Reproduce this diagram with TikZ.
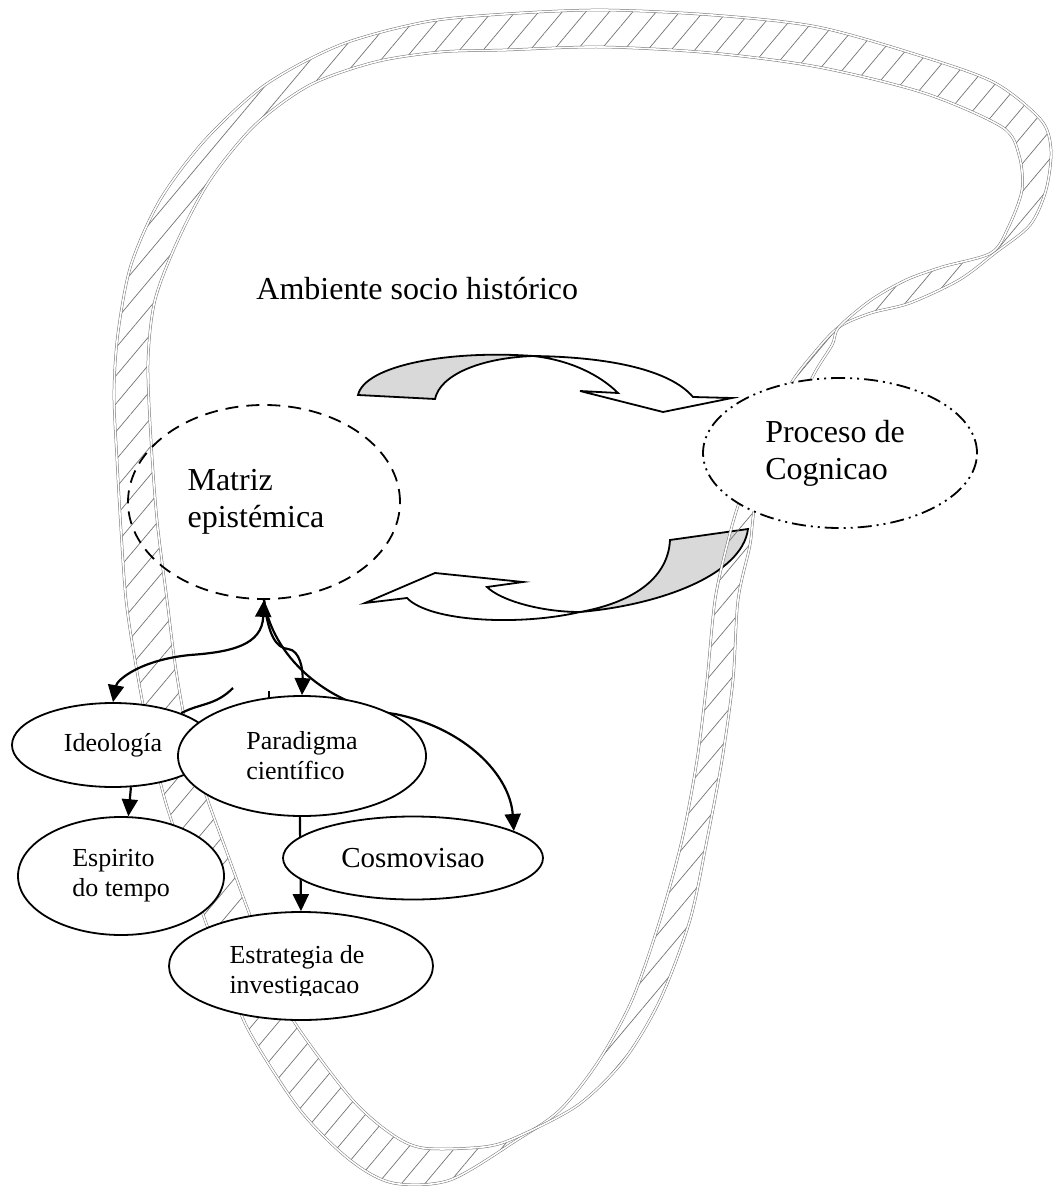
\documentclass[tikz,border=0pt]{standalone}
\usepackage{fontspec}
\setmainfont{Liberation Serif}
\usetikzlibrary{shapes.geometric,arrows.meta,patterns.meta}

\pgfdeclarelayer{back}
\pgfdeclarelayer{links}
\pgfsetlayers{back,links,main}

\newcommand\outerrim{(250,1033) (228,980) (205,920) (185,860) (165,800) (148,730) (135,660) (126,600) (121,530) (117,460) (114,393) (118,333) (131,265) (160,200) (205,140) (265,85) (340,45) (425,22) (505,14) (602,10) (712,15) (818,27) (924,57) (995,83) (1041,120) (1051,150) (1046,190) (1030,225) (995,253) (959,280) (910,303) (871,313) (839,327) (815,352) (790,385) (765,440) (740,500) (727,545) (715,600) (707,680) (697,760) (682,840) (660,920) (632,1000) (598,1062) (560,1110) (517,1140) (450,1180) (393,1183) (350,1160) (300,1110)}
\newcommand\innerrim{(293,1020) (270,968) (248,910) (226,850) (206,795) (188,735) (176,670) (167,600) (157,520) (151,440) (148,362) (155,300) (178,240) (210,180) (255,125) (310,85) (375,62) (440,52) (505,50) (602,47) (712,53) (818,67) (924,93) (1002,127) (1019,155) (1022,190) (1008,228) (991,253) (942,267) (906,280) (871,300) (839,327) (832,345) (812,378) (790,435) (757,500) (750,545) (738,600) (733,680) (722,760) (707,840) (690,920) (660,1000) (624,1060) (578,1105) (517,1137) (483,1147) (423,1148) (390,1133) (350,1097)}

\tikzset{
  bubble/.style={ellipse,draw,fill=white,line width=0.9pt,inner sep=0pt,align=left,
    font=\fontsize{13}{15}\selectfont},
  bigtext/.style={font=\fontsize{16}{18.5}\selectfont},
  conn/.style={line width=1.1pt,-{Triangle[length=8.5pt,width=8pt]}},
  rim/.style={draw=black!55,line width=0.25pt,double=white,double distance=0.8pt},
  turn/.style={draw,line width=0.9pt,line join=miter}
}

\begin{document}
\begin{tikzpicture}[x=0.5pt,y=-0.5pt]
\useasboundingbox (0,0) rectangle (1055,1186);

% nodes
\node[bubble,minimum width=101pt,minimum height=42pt] (ideo) at (113,745) {Ideología};
\node[bubble,minimum width=103pt,minimum height=59pt] (espir) at (121,876) {Espirito\\do tempo};
\node[bubble,minimum width=124pt,minimum height=60pt] (parad) at (302,756) {Paradigma\\científico};
\node[bubble,minimum width=130pt,minimum height=41.5pt,font=\fontsize{14.5}{17}\selectfont] (cosmo) at (413,858) {Cosmovisao};
\node[bubble,minimum width=132pt,minimum height=54pt] (estrat) at (301,966) {};
\begin{scope}
  \clip (160,930) rectangle (440,995);
  \node[align=left,inner sep=0pt,font=\fontsize{13}{15}\selectfont] (estrattxt) at (297,972) {Estrategia de\\investigacao};
\end{scope}
\node[bubble,bigtext,fill=none,dash pattern=on 6.5pt off 4pt,minimum width=136pt,minimum height=97pt] (matriz) at (264,502) {Matriz\\epistémica\hspace*{8pt}};
\node[bubble,bigtext,dash pattern=on 7pt off 2.5pt on 1pt off 2.5pt on 1pt off 2.5pt,minimum width=137pt,minimum height=75pt] (proceso) at (840,453) {Proceso de\hspace*{5pt}\\Cognicao};
\node[bigtext,anchor=base west,inner sep=0pt] (ambiente) at (256,300) {Ambiente socio histórico};

% curved block arrows and the band
\begin{pgfonlayer}{back}
\draw[turn,fill=black!15] (358,395) -- (435,399) .. controls (440,375) and (480,358) .. (533,356) .. controls (450,350) and (365,365) .. cycle;
\draw[turn,fill=white] (533,356) .. controls (610,357) and (670,370) .. (693,397) -- (732,398) -- (663,412) -- (580,391) -- (618,393) .. controls (600,375) and (570,360) .. cycle;
\draw[turn,fill=black!15] (748,529) -- (670,540) .. controls (668,580) and (630,603) .. (580,612) .. controls (660,605) and (742,575) .. cycle;
\draw[turn,fill=white] (580,612) .. controls (540,612) and (500,600) .. (487,587) -- (523,582) -- (435,573) -- (365,603) -- (407,598) .. controls (430,622) and (520,626) .. cycle;

\path[pattern={Lines[angle=50,distance=9pt,line width=0.35pt]},pattern color=black!55,even odd rule]
  plot[smooth cycle] coordinates {\outerrim} plot[smooth cycle] coordinates {\innerrim};
\draw[rim] plot[smooth cycle] coordinates {\outerrim};
\draw[rim] plot[smooth cycle] coordinates {\innerrim};
\end{pgfonlayer}

% links
\begin{pgfonlayer}{links}
\draw[conn,{Triangle[length=8.5pt,width=8pt]}-{Triangle[length=8.5pt,width=8pt]}] (matriz.south) .. controls (262,645) and (232,652) .. (190,655) .. controls (140,660) and (117,680) .. (ideo.north);
\draw[conn] (matriz.south) .. controls (272,655) and (325,705) .. (395,714) .. controls (465,728) and (510,775) .. (cosmo.15);
\draw[conn] (matriz.south) .. controls (268,635) and (276,648) .. (288,649) .. controls (300,650) and (303,670) .. (parad.north);
\draw[conn] (ideo.-67) -- (espir.83);
\draw[conn] (parad.-92) -- (estrat.north);
\coordinate (stubA) at (233,688);
\draw[line width=1.1pt] (stubA) .. controls (215,706) and (200,703) .. (ideo.25);
\coordinate (stubB) at (269,691);
\draw[line width=1.1pt] (stubB) -- ++(0,12);
\end{pgfonlayer}
\end{tikzpicture}
\end{document}
